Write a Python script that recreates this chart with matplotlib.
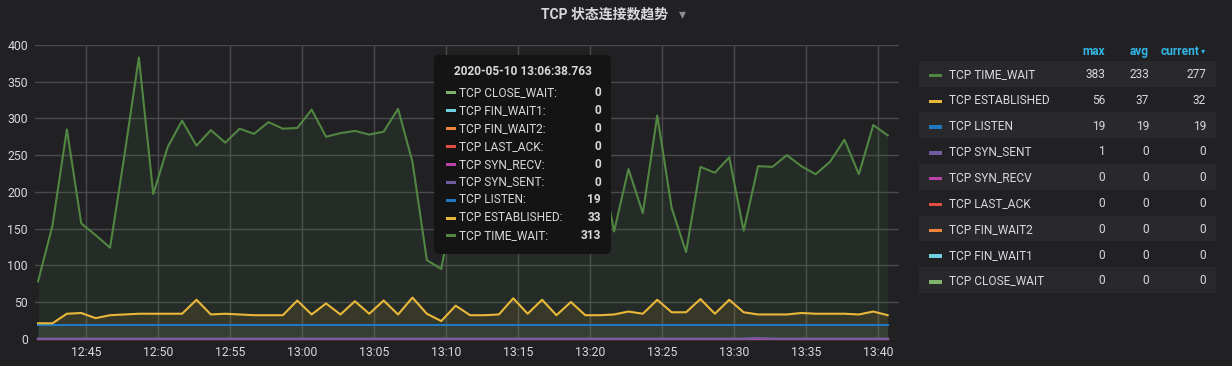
import matplotlib
matplotlib.use("Agg")
import matplotlib.pyplot as plt
import matplotlib.dates as mdates
from matplotlib.patches import Rectangle, FancyBboxPatch
import pandas as pd

plt.rcParams['font.family'] = ['Roboto', 'Noto Sans CJK SC', 'DejaVu Sans']

# one sample per minute, 60 samples
start = "2020-05-10 12:41:38.763"
n_points = 60

time_wait = [78, 154, 285, 157, 141, 124, 250, 383, 197, 261,
             297, 263, 284, 267, 286, 279, 295, 286, 287, 312,
             275, 280, 283, 278, 282, 313, 241, 107, 95, 200,
             235, 190, 240, 215, 250, 190, 245, 230, 210, 250,
             146, 231, 171, 304, 178, 118, 234, 226, 247, 147,
             235, 234, 250, 235, 224, 241, 271, 224, 291, 277]
established = [21, 21, 34, 35, 28, 32, 33, 34, 34, 34,
               34, 53, 33, 34, 33, 32, 32, 32, 52, 33,
               48, 33, 51, 34, 52, 33, 56, 34, 24, 45,
               32, 32, 33, 55, 34, 53, 32, 50, 32, 32,
               33, 37, 34, 53, 36, 36, 54, 34, 53, 36,
               33, 33, 33, 35, 34, 34, 34, 33, 37, 32]
listen = [19] * n_points
syn_sent = [0] * 50 + [1] + [0] * 9
zeros = [0] * n_points

# draw order (also tooltip order)
series_names = ["TCP CLOSE_WAIT", "TCP FIN_WAIT1", "TCP FIN_WAIT2", "TCP LAST_ACK",
                "TCP SYN_RECV", "TCP SYN_SENT", "TCP LISTEN", "TCP ESTABLISHED",
                "TCP TIME_WAIT"]
series_values = [zeros, zeros, zeros, zeros, zeros, syn_sent, listen, established, time_wait]
series_colors = ["#7EB26D", "#6ED0E0", "#EF843C", "#E24D42", "#BA43A9",
                 "#705DA0", "#1F78C1", "#EAB839", "#508642"]
legend_order = ["TCP TIME_WAIT", "TCP ESTABLISHED", "TCP LISTEN", "TCP SYN_SENT",
                "TCP SYN_RECV", "TCP LAST_ACK", "TCP FIN_WAIT2", "TCP FIN_WAIT1",
                "TCP CLOSE_WAIT"]
hover_index = 25

title = "TCP 状态连接数趋势"
bg = "#212124"
text_col = "#d8d9da"

times = pd.date_range(start, periods=n_points, freq="1min")

W, H = 1232, 366
fig = plt.figure(figsize=(W / 100, H / 100), dpi=100, facecolor=bg)
ax = fig.add_axes([35 / W, 1 - 338.7 / H, 864 / W, (338.7 - 45) / H])
ax.set_facecolor(bg)

for name, vals, col in zip(series_names, series_values, series_colors):
    ax.fill_between(times, vals, 0, color=col, alpha=0.1, linewidth=0)
    ax.plot(times, vals, color=col, linewidth=1.5, clip_on=False)

ax.set_ylim(0, 400)
ax.set_yticks(range(0, 401, 50))
ax.set_xlim(pd.Timestamp("2020-05-10 12:41:26"), pd.Timestamp("2020-05-10 13:41:26"))
ax.xaxis.set_major_locator(mdates.MinuteLocator(byminute=range(0, 60, 5)))
ax.xaxis.set_major_formatter(mdates.DateFormatter("%H:%M"))
ax.grid(True, color="#4a4a4c", linewidth=1)
ax.set_axisbelow(True)
for s in ax.spines.values():
    s.set_visible(False)
ax.tick_params(length=0, colors=text_col, labelsize=8.8, pad=5)

# overlay in pixel coords for title, legend table and tooltip
ov = fig.add_axes([0, 0, 1, 1])
ov.set_xlim(0, W)
ov.set_ylim(H, 0)
ov.axis("off")
ov.set_zorder(5)
ov.patch.set_alpha(0)

ov.text(605, 14, title, ha="center", va="center", color=text_col,
        fontsize=10, fontweight="bold")
ov.text(682, 14, "▾", ha="center", va="center", color="#8e8e90",
        fontsize=10, family="DejaVu Sans")

# legend table
hdr_col = "#33b5e5"
ov.text(1105, 55, "max", ha="right", va="baseline", color=hdr_col, fontsize=8.6, fontweight="bold")
ov.text(1149, 55, "avg", ha="right", va="baseline", color=hdr_col, fontsize=8.6, fontweight="bold")
ov.text(1199, 55, "current", ha="right", va="baseline", color=hdr_col, fontsize=8.6, fontweight="bold")
ov.text(1203, 51, "▾", ha="center", va="center", color=hdr_col, fontsize=6, family="DejaVu Sans")

for k, name in enumerate(legend_order):
    i = series_names.index(name)
    vals = series_values[i]
    y = 73.7 + 25.8 * k
    if k % 2 == 0:
        ov.add_patch(Rectangle((919, y - 12.9), 297, 25.8, color="#29292b", linewidth=0))
    ov.add_patch(Rectangle((929, y), 13, 3.5, color=series_colors[i], linewidth=0))
    ov.text(949, y + 4.3, name, ha="left", va="baseline", color=text_col, fontsize=8.6)
    ov.text(1105, y + 4.3, str(max(vals)), ha="right", va="baseline", color=text_col, fontsize=8.6)
    ov.text(1149, y + 4.3, str(int(round(sum(vals) / len(vals)))), ha="right", va="baseline",
            color=text_col, fontsize=8.6)
    ov.text(1206, y + 4.3, str(vals[-1]), ha="right", va="baseline", color=text_col, fontsize=8.6)

# tooltip
ov.add_patch(FancyBboxPatch((434, 55), 177, 199, boxstyle="round,pad=0,rounding_size=5",
                            facecolor="#141414", edgecolor="none"))
ov.text(522.7, 75, times[hover_index].strftime("%Y-%m-%d %H:%M:%S.") + "763",
        ha="center", va="baseline", color=text_col, fontsize=8.6, fontweight="bold")
for j, (name, vals, col) in enumerate(zip(series_names, series_values, series_colors)):
    y = 91.7 + 17.9 * j
    ov.add_patch(Rectangle((446, y - 0.5), 10, 3, color=col, linewidth=0))
    ov.text(459, y + 4.3, name + ":", ha="left", va="baseline", color=text_col, fontsize=8.6)
    ov.text(601, y + 4.3, str(vals[hover_index]), ha="right", va="baseline", color=text_col,
            fontsize=8.6, fontweight="bold")

fig.savefig("out.png", dpi=100, facecolor=bg)
